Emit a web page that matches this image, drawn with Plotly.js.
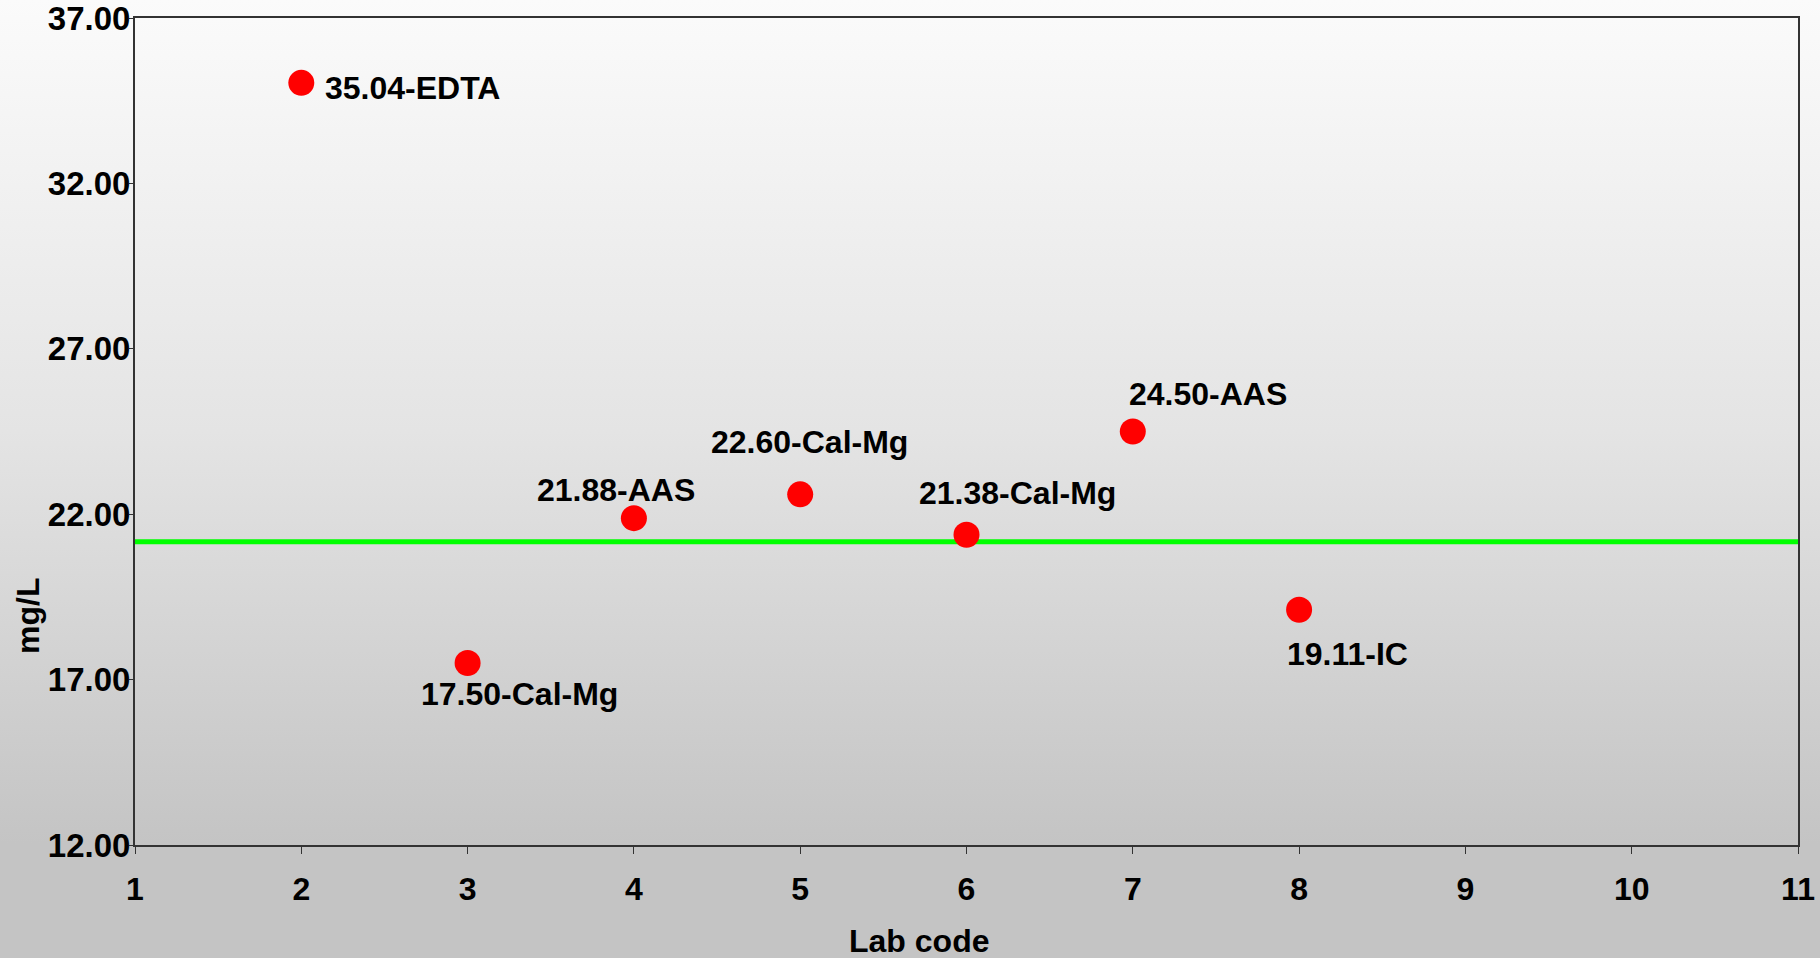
<!DOCTYPE html>
<html>
<head>
<meta charset="utf-8">
<script src="https://cdn.plot.ly/plotly-3.0.1.min.js"></script>
<style>
  html, body { margin: 0; padding: 0; }
  #chart {
    width: 1820px; height: 958px;
    background: linear-gradient(to bottom, #fbfbfb 0%, #e4e4e4 45%, #c4c4c4 88%, #c4c4c4 100%);
  }
</style>
</head>
<body>
<div id="chart"></div>
<script>
// Data
const labCodes = [2, 3, 4, 5, 6, 7, 8];
const values = [35.04, 17.50, 21.88, 22.60, 21.38, 24.50, 19.11];
const methods = ["EDTA", "Cal-Mg", "AAS", "Cal-Mg", "Cal-Mg", "AAS", "IC"];
const referenceValue = 21.17;
const xRange = [1, 11];
const yRange = [12, 37];
const yTicks = [12, 17, 22, 27, 32, 37];
const xTicks = [1, 2, 3, 4, 5, 6, 7, 8, 9, 10, 11];

// Label placement (styling only: pixel offsets from each point)
const labelStyle = [
  {xanchor: "left",   xshift: 22, yshift: -5},
  {xanchor: "center", xshift: 52, yshift: -31},
  {xanchor: "center", xshift: -18, yshift: 28},
  {xanchor: "center", xshift: 9,  yshift: 52},
  {xanchor: "center", xshift: 51, yshift: 42},
  {xanchor: "center", xshift: 75, yshift: 38},
  {xanchor: "center", xshift: 48, yshift: -44}
];

const FONT = "Liberation Sans, Arial, sans-serif";
const textFont = {family: FONT, size: 32, color: "#000000", weight: "bold"};

const traces = [
  {
    x: xRange, y: [referenceValue, referenceValue],
    mode: "lines", type: "scatter",
    line: {color: "#00ff00", width: 5},
    hoverinfo: "skip", showlegend: false
  },
  {
    x: labCodes, y: values,
    mode: "markers", type: "scatter",
    marker: {color: "#ff0000", size: 26, line: {width: 0}},
    showlegend: false
  }
];

const annotations = labCodes.map((x, i) => ({
  x: x, y: values[i], xref: "x", yref: "y",
  text: values[i].toFixed(2) + "-" + methods[i],
  showarrow: false,
  xanchor: labelStyle[i].xanchor, yanchor: "middle",
  xshift: labelStyle[i].xshift, yshift: labelStyle[i].yshift,
  font: textFont
}));

const L = 135, R = 22, T = 18, B = 113, W = 1820, H = 958;
const pw = W - L - R, ph = H - T - B;

// axis titles, placed by page-pixel centre converted to paper coordinates
annotations.push({
  xref: "paper", yref: "paper",
  x: (919 - L) / pw, y: (H - B - 941) / ph,
  xanchor: "center", yanchor: "middle",
  text: "Lab code", showarrow: false, font: textFont
});
annotations.push({
  xref: "paper", yref: "paper",
  x: (28 - L) / pw, y: (H - B - 616) / ph,
  xanchor: "center", yanchor: "middle",
  text: "mg/L", showarrow: false, textangle: -90, font: textFont
});

const layout = {
  width: W, height: H,
  margin: {l: L, r: R, t: T, b: B, pad: 0},
  paper_bgcolor: "rgba(0,0,0,0)",
  plot_bgcolor: "rgba(0,0,0,0)",
  showlegend: false,
  xaxis: {
    range: xRange, tickvals: xTicks, ticktext: xTicks.map(String),
    showgrid: false, zeroline: false,
    showline: true, linecolor: "#333333", linewidth: 2, mirror: true,
    ticks: "outside", ticklen: 7, tickwidth: 1, tickcolor: "#333333",
    ticklabelstandoff: 8, ticklabeloverflow: "allow",
    tickfont: {family: FONT, size: 32, color: "#000000", weight: "bold"}
  },
  yaxis: {
    range: yRange, tickvals: yTicks, ticktext: yTicks.map(v => v.toFixed(2)),
    showgrid: false, zeroline: false,
    showline: true, linecolor: "#333333", linewidth: 2, mirror: true,
    ticks: "outside", ticklen: 4, tickwidth: 1, tickcolor: "#333333",
    ticklabelstandoff: -8, ticklabeloverflow: "allow",
    tickfont: {family: FONT, size: 33, color: "#000000", weight: "bold"}
  },
  annotations: annotations
};

Plotly.newPlot("chart", traces, layout, {displayModeBar: false, staticPlot: true});
</script>
</body>
</html>
